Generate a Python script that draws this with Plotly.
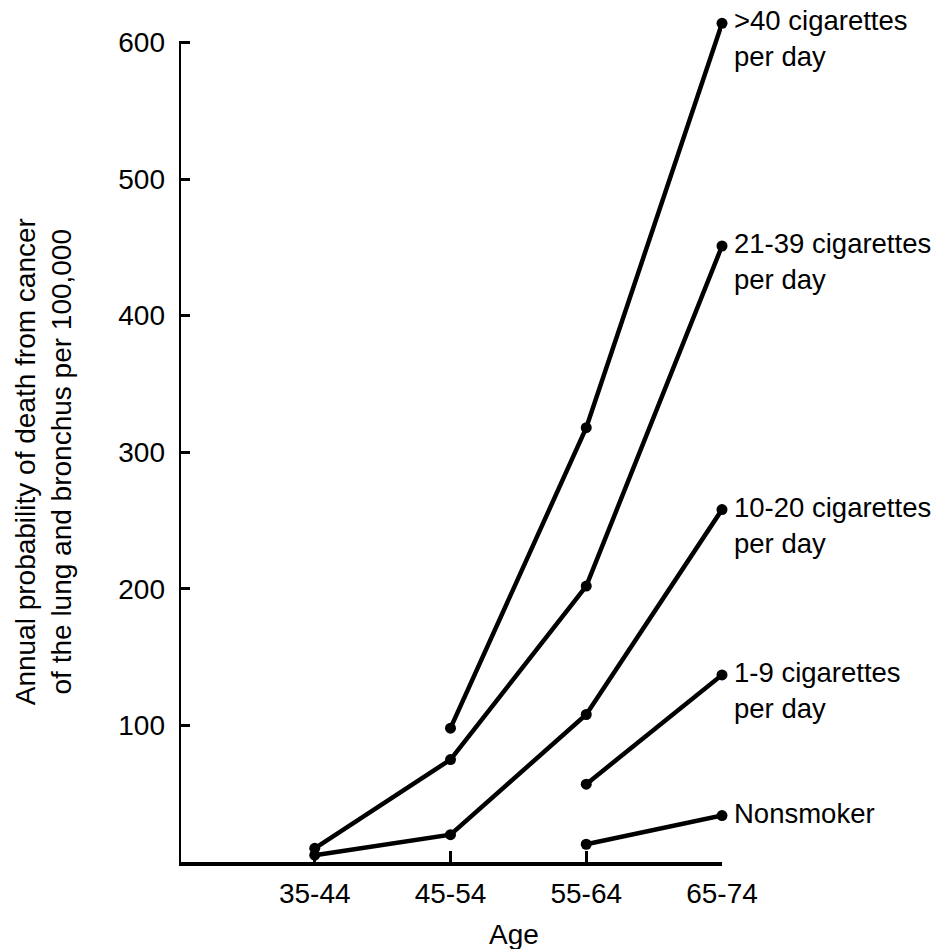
import plotly.graph_objects as go

age_groups = ["35-44", "45-54", "55-64", "65-74"]
age_pos = [1, 2, 3, 4]

series_names = [">40 cigarettes<br>per day", "21-39 cigarettes<br>per day",
                "10-20 cigarettes<br>per day", "1-9 cigarettes<br>per day", "Nonsmoker"]
heavy_40 = [None, 98, 318, 614]
heavy_21 = [10, 75, 202, 451]
mid_10 = [5, 20, 108, 258]
light_1 = [None, None, 57, 137]
nonsmoker = [None, None, 13, 34]
series_values = [heavy_40, heavy_21, mid_10, light_1, nonsmoker]

y_ticks = [100, 200, 300, 400, 500, 600]

FONT = "Liberation Sans, Arial, sans-serif"
FS = 28
fig = go.Figure()
for name, vals in zip(series_names, series_values):
    xs = [p for p, v in zip(age_pos, vals) if v is not None]
    ys = [v for v in vals if v is not None]
    fig.add_trace(go.Scatter(x=xs, y=ys, mode="lines+markers",
                             line=dict(color="black", width=4.5),
                             marker=dict(color="black", size=11),
                             cliponaxis=False, showlegend=False))
    fig.add_annotation(x=xs[-1], y=ys[-1], xref="x", yref="y", text=name,
                       showarrow=False, xanchor="left", yanchor="top", align="left",
                       xshift=11, yshift=19, borderpad=0,
                       font=dict(family=FONT, size=27.5, color="black"))

# y axis line up to the top tick
fig.add_shape(type="line", xref="x", yref="y", x0=0, x1=0, y0=0, y1=y_ticks[-1],
              line=dict(color="black", width=4))

fig.add_annotation(xref="paper", yref="paper", x=-0.2505, y=0.477, textangle=-90,
                   text="Annual probability of death from cancer<br>of the lung and bronchus per 100,000",
                   showarrow=False, font=dict(family=FONT, size=FS, color="black"),
                   xanchor="center", yanchor="middle")

fig.add_annotation(xref="paper", yref="paper", x=0.617, y=-0.0869, text="Age",
                   showarrow=False, font=dict(family=FONT, size=FS, color="black"),
                   xanchor="center", yanchor="middle", borderpad=0)

fig.update_layout(
    width=941, height=949,
    margin=dict(l=171, r=227, t=13.5, b=95),
    paper_bgcolor="white", plot_bgcolor="white",
    font=dict(family=FONT, size=FS, color="black"),
    xaxis=dict(range=[0, 4], tickvals=age_pos, ticktext=age_groups,
               showline=True, linecolor="black", linewidth=4,
               ticks="inside", ticklen=11, tickwidth=3, tickcolor="black",
               showgrid=False, zeroline=False, ticklabelstandoff=3,
               automargin=False),
    yaxis=dict(range=[0, 615], tickvals=y_ticks, showline=False,
               ticks="inside", ticklen=11, tickwidth=3, tickcolor="black",
               showgrid=False, zeroline=False, ticklabelstandoff=13,
               automargin=False),
)

fig.write_html("out.html")
